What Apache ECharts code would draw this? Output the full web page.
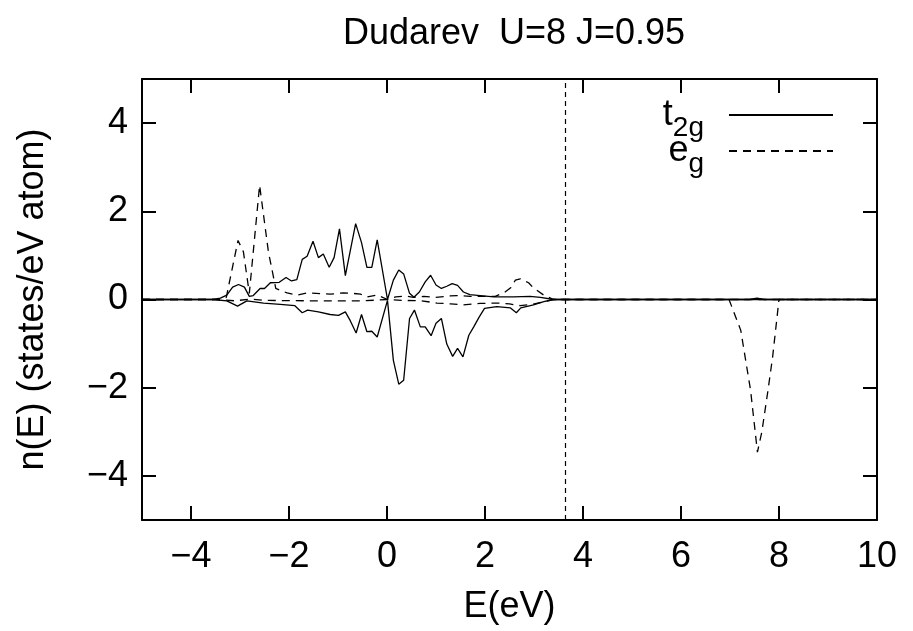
<!DOCTYPE html>
<html>
<head>
<meta charset="utf-8">
<script src="https://cdn.jsdelivr.net/npm/echarts@6/dist/echarts.min.js"></script>
<style>
  html, body { margin: 0; padding: 0; background: #fff; }
  #chart { width: 913px; height: 631px; }
</style>
</head>
<body>
<div id="chart"></div>
<script>
// E (eV), n(E) pairs
const t2gUp = [[-5,0],[-3.55,0],[-3.4,0.03],[-3.27,0.1],[-3.15,0.28],[-3.03,0.34],[-2.91,0.28],[-2.81,0.07],[-2.73,0.09],[-2.59,0.25],[-2.5,0.25],[-2.38,0.38],[-2.2,0.39],[-2.06,0.5],[-1.95,0.42],[-1.84,0.45],[-1.73,0.91],[-1.63,0.98],[-1.51,1.32],[-1.4,0.95],[-1.3,1.03],[-1.18,0.73],[-1.08,0.95],[-0.97,1.6],[-0.85,0.54],[-0.64,1.72],[-0.52,1.29],[-0.41,0.73],[-0.31,0.73],[-0.2,1.35],[0.01,0],[0.13,0.44],[0.24,0.67],[0.34,0.58],[0.46,0.14],[0.55,0.05],[0.66,0.17],[0.78,0.4],[0.89,0.55],[1,0.33],[1.11,0.25],[1.22,0.3],[1.33,0.36],[1.44,0.32],[1.56,0.17],[1.69,0.11],[1.9,0.09],[2.18,0.06],[2.58,0.06],[2.92,0.07],[3.13,0.05],[3.4,0],[7.4,0],[7.55,0.03],[7.7,0],[10,0]];
const t2gDown = [[-5,0],[-3.55,0],[-3.27,-0.03],[-3.05,-0.15],[-2.86,-0.03],[-2.52,-0.08],[-2.18,-0.11],[-1.88,-0.14],[-1.73,-0.3],[-1.62,-0.24],[-1.4,-0.28],[-1.16,-0.34],[-0.99,-0.36],[-0.85,-0.28],[-0.75,-0.48],[-0.63,-0.76],[-0.52,-0.34],[-0.41,-0.73],[-0.31,-0.72],[-0.2,-0.85],[0.01,-0.02],[0.13,-1.38],[0.24,-1.92],[0.34,-1.83],[0.46,-0.43],[0.56,-0.24],[0.68,-0.62],[0.78,-0.62],[0.9,-0.82],[1,-0.54],[1.11,-0.43],[1.22,-1.01],[1.34,-1.29],[1.44,-1.11],[1.55,-1.3],[1.67,-0.81],[1.77,-0.62],[1.88,-0.4],[1.99,-0.2],[2.24,-0.16],[2.52,-0.19],[2.64,-0.3],[2.73,-0.19],[2.99,-0.12],[3.2,-0.05],[3.4,0],[10,0]];
const egUp = [[-5,0],[-3.4,0],[-3.28,0.05],[-3.04,1.34],[-2.93,1.08],[-2.81,0.14],[-2.6,2.59],[-2.42,1.08],[-2.27,0.25],[-2.04,0.15],[-1.84,0.1],[-1.63,0.15],[-1.16,0.12],[-0.89,0.15],[-0.71,0.14],[-0.54,0.12],[-0.41,0.06],[-0.2,0.1],[0.01,0],[0.18,0.06],[0.37,0.08],[0.54,0.05],[0.75,0.07],[0.99,0.05],[1.29,0.08],[1.43,0.09],[1.7,0.07],[2.21,0.07],[2.41,0.17],[2.53,0.27],[2.62,0.44],[2.72,0.47],[2.89,0.38],[2.99,0.26],[3.2,0.1],[3.4,0],[10,0]];
const egDown = [[-5,0],[-3.5,0],[-3.1,-0.03],[-2.8,0.01],[-2.5,-0.02],[-1.5,-0.03],[-0.5,-0.03],[0.01,0],[0.3,-0.02],[0.7,-0.03],[1.02,-0.08],[1.3,-0.1],[1.56,-0.12],[1.9,-0.09],[2.24,-0.08],[2.5,-0.1],[2.72,-0.14],[2.96,-0.11],[3.2,-0.05],[3.4,0],[6.98,0],[7.22,-0.7],[7.42,-2.06],[7.56,-3.46],[7.65,-3.0],[7.77,-2.1],[7.87,-1.3],[8.0,0],[10,0]];
const fermiLevel = 3.64;
const xTicks = [-4, -2, 0, 2, 4, 6, 8, 10];
const yTicks = [-4, -2, 0, 2, 4];

const font = 'Liberation Sans';
const fs = 36;
const minus = (v) => String(v).replace('-', '\u2212');

const axisLineStyle = { color: '#000', width: 2 };
function xAx(pos, labels) {
  return {
    type: 'value', position: pos, min: -5, max: 10,
    axisLine: { show: true, onZero: false, lineStyle: axisLineStyle },
    axisTick: { show: true, inside: true, length: 14, customValues: xTicks, lineStyle: axisLineStyle },
    axisLabel: { show: labels, customValues: xTicks, formatter: minus, margin: 19, color: '#000', fontFamily: font, fontSize: fs },
    splitLine: { show: false },
    name: labels ? 'E(eV)' : '', nameLocation: 'middle', nameGap: 69,
    nameTextStyle: { color: '#000', fontFamily: font, fontSize: fs }
  };
}
function yAx(pos, labels) {
  return {
    type: 'value', position: pos, min: -5, max: 5,
    axisLine: { show: true, onZero: false, lineStyle: axisLineStyle },
    axisTick: { show: true, inside: true, length: 14, customValues: yTicks, lineStyle: axisLineStyle },
    axisLabel: { show: labels, customValues: yTicks, formatter: minus, margin: 14, color: '#000', fontFamily: font, fontSize: fs },
    splitLine: { show: false },
    name: labels ? 'n(E) (states/eV atom)' : '', nameLocation: 'middle', nameGap: 91, nameRotate: 90,
    nameTextStyle: { color: '#000', fontFamily: font, fontSize: fs }
  };
}
const solid = { color: '#000', width: 1.3, type: 'solid' };
const dashed = { color: '#000', width: 1.3, type: [8, 6] };

const chart = echarts.init(document.getElementById('chart'));
chart.setOption({
  animation: false,
  backgroundColor: '#fff',
  title: {
    text: 'Dudarev  U=8 J=0.95', left: 509, top: 11, textAlign: 'center',
    textStyle: { color: '#000', fontFamily: font, fontSize: fs, fontWeight: 'normal' }
  },
  grid: { left: 142, right: 36, top: 79, bottom: 111 },
  legend: {
    data: ['t2g', 'eg'], orient: 'vertical', align: 'right', right: 74, top: 92,
    itemWidth: 104, itemHeight: 14, itemGap: -9,
    itemStyle: { opacity: 0 },
    formatter: (n) => n === 't2g' ? '{m|t}{s|2g}' : '{m|e}{s|g}',
    textStyle: {
      color: '#000', fontFamily: font, padding: [0, 20, 0, 0],
      rich: {
        m: { fontFamily: font, fontSize: fs, lineHeight: 36, verticalAlign: 'top', color: '#000' },
        s: { fontFamily: font, fontSize: 28, lineHeight: 20, verticalAlign: 'top', padding: [17, 0, 0, 0], color: '#000' }
      }
    }
  },
  xAxis: [xAx('bottom', true), xAx('top', false)],
  yAxis: [yAx('left', true), yAx('right', false)],
  series: [
    { name: 't2g', type: 'line', data: t2gUp, symbol: 'none', lineStyle: solid, itemStyle: { color: '#000' } },
    { name: 't2g', type: 'line', data: t2gDown, symbol: 'none', lineStyle: solid, itemStyle: { color: '#000' } },
    { name: 'eg', type: 'line', data: egUp, symbol: 'none', lineStyle: dashed, itemStyle: { color: '#000' } },
    {
      name: 'eg', type: 'line', data: egDown, symbol: 'none', lineStyle: dashed, itemStyle: { color: '#000' },
      markLine: {
        silent: true, symbol: ['none', 'none'], label: { show: false },
        lineStyle: { color: '#000', width: 1.2, type: [5, 4] },
        data: [{ xAxis: fermiLevel }]
      }
    }
  ]
});
</script>
</body>
</html>
